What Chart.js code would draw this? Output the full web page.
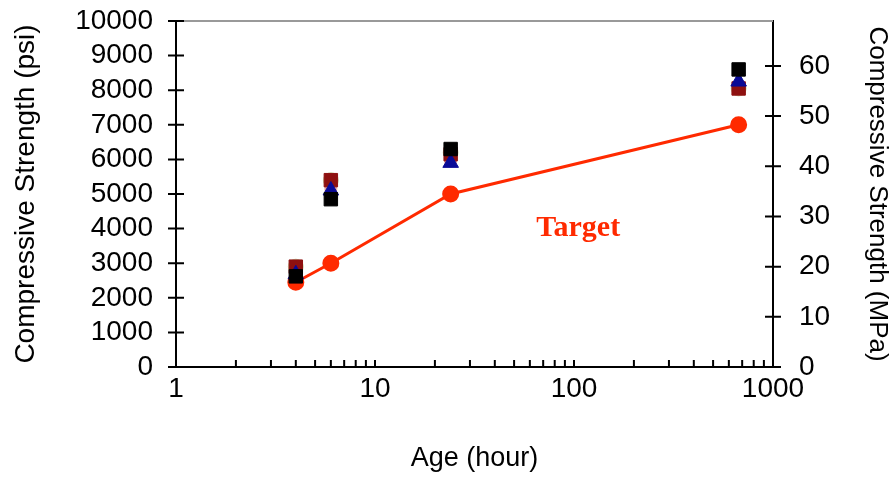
<!DOCTYPE html>
<html>
<head>
<meta charset="utf-8">
<script src="https://cdn.jsdelivr.net/npm/chart.js@4.4.1/dist/chart.umd.min.js"></script>
<style>
  html, body { margin: 0; padding: 0; background: #fff; }
  canvas { display: block; }
</style>
</head>
<body>
<canvas id="chart" width="893" height="478"></canvas>
<script>
// Ages tested (hours)
const ages = [4, 6, 24, 672];

// Compressive strength results (psi) per mix
const mixBlack = [2620, 4850, 6300, 8600];
const mixBlue = [2680, 5100, 5900, 8250];
const mixMaroon = [2900, 5400, 6150, 8050];
const mixGreen = [2900, 5400, 6200, 8050];
const mixPink = [2780, 5150, 5950, 8150];
const target = [2450, 3000, 5000, 7000];

const xTickLabels = [1, 10, 100, 1000];
const psiTicks = [0, 1000, 2000, 3000, 4000, 5000, 6000, 7000, 8000, 9000, 10000];
const mpaTicks = [0, 10, 20, 30, 40, 50, 60];
const psiToMPa = 0.0068948;

const toPoints = (vals) => vals.map((v, i) => ({ x: ages[i], y: v }));

// axis tick marks and top frame line
const framePlugin = {
  id: "frame",
  afterDraw(chart) {
    const { ctx, chartArea, scales } = chart;
    ctx.save();
    ctx.strokeStyle = "#999";
    ctx.lineWidth = 2;
    ctx.beginPath();
    ctx.moveTo(chartArea.left, chartArea.top);
    ctx.lineTo(chartArea.right, chartArea.top);
    ctx.stroke();

    ctx.strokeStyle = "#000";
    ctx.lineWidth = 2;
    ctx.beginPath();
    psiTicks.forEach((v) => {
      const y = scales.y.getPixelForValue(v);
      ctx.moveTo(chartArea.left - 8, y);
      ctx.lineTo(chartArea.left + 8, y);
    });
    mpaTicks.forEach((v) => {
      const y = scales.y2.getPixelForValue(v);
      ctx.moveTo(chartArea.right - 8, y);
      ctx.lineTo(chartArea.right + 8, y);
    });
    for (let d = 1; d < 1000; d *= 10) {
      for (let k = 1; k <= 10; k++) {
        const x = scales.x.getPixelForValue(d * k);
        ctx.moveTo(x, chartArea.bottom);
        ctx.lineTo(x, chartArea.bottom - 7);
      }
    }
    ctx.stroke();

    // Target label
    ctx.fillStyle = "#ff2a00";
    ctx.font = "bold 30px 'Liberation Serif', 'Times New Roman', serif";
    ctx.textAlign = "center";
    ctx.textBaseline = "middle";
    ctx.fillText("Target", scales.x.getPixelForValue(105), scales.y.getPixelForValue(4020));
    ctx.restore();
  },
};

const fam = "'Liberation Sans', Arial, sans-serif";
const font = { family: fam, size: 28 };

const fixVertical = (w) => (scale) => {
  scale.width = w;
  scale.paddingTop = 0;
  scale.paddingBottom = 0;
};

new Chart(document.getElementById("chart"), {
  type: "scatter",
  data: {
    datasets: [
      {
        label: "Black",
        data: toPoints(mixBlack),
        pointStyle: "rect",
        pointRadius: 9.5,
        backgroundColor: "#000",
        borderColor: "#000",
        order: 1,
      },
      {
        label: "Blue",
        data: toPoints(mixBlue),
        pointStyle: "triangle",
        pointRadius: 9,
        backgroundColor: "#0a0a96",
        borderColor: "#0a0a96",
        order: 2,
      },
      {
        label: "Maroon",
        data: toPoints(mixMaroon),
        pointStyle: "rect",
        pointRadius: 9.5,
        backgroundColor: "#8e1010",
        borderColor: "#8e1010",
        order: 3,
      },
      {
        label: "Pink",
        data: toPoints(mixPink),
        pointStyle: "circle",
        pointRadius: 6,
        backgroundColor: "#e8aaa8",
        borderColor: "#e8aaa8",
        order: 4,
      },
      {
        label: "Green",
        data: toPoints(mixGreen),
        pointStyle: "circle",
        pointRadius: 7.5,
        backgroundColor: "#cfdcb0",
        borderColor: "#cfdcb0",
        order: 5,
      },
      {
        label: "Target",
        type: "line",
        data: toPoints(target),
        showLine: true,
        borderColor: "#ff2a00",
        backgroundColor: "#ff2a00",
        borderWidth: 3,
        pointStyle: "circle",
        pointRadius: 7,
        tension: 0,
        order: 6,
      },
    ],
  },
  options: {
    responsive: false,
    devicePixelRatio: 1,
    animation: false,
    layout: { padding: { top: 21, left: 0, right: 0, bottom: 0 } },
    plugins: {
      legend: { display: false },
      tooltip: { enabled: false },
    },
    scales: {
      x: {
        type: "logarithmic",
        position: "bottom",
        min: 1,
        max: 1000,
        afterBuildTicks: (scale) => {
          scale.ticks = xTickLabels.map((v) => ({ value: v }));
        },
        afterFit: (scale) => {
          scale.height = 111;
          scale.paddingLeft = 0;
          scale.paddingRight = 0;
        },
        grid: { display: false },
        border: { display: true, color: "#000", width: 2 },
        ticks: {
          color: "#000",
          font: font,
          padding: -3,
          maxRotation: 0,
          autoSkip: false,
          callback: (v) => String(v),
        },
        title: {
          display: true,
          text: "Age (hour)",
          color: "#000",
          font: { family: fam, size: 27 },
          padding: { top: 2, bottom: 3 },
        },
      },
      y: {
        position: "left",
        min: 0,
        max: 10000,
        afterBuildTicks: (scale) => {
          scale.ticks = psiTicks.map((v) => ({ value: v }));
        },
        afterFit: fixVertical(176),
        grid: { display: false },
        border: { display: true, color: "#000", width: 2 },
        ticks: {
          color: "#000",
          font: font,
          padding: 15,
          autoSkip: false,
          callback: (v) => String(v),
        },
        title: {
          display: true,
          text: "Compressive Strength (psi)",
          color: "#000",
          font: { family: fam, size: 28 },
          padding: { top: 9, bottom: 0 },
        },
      },
      y2: {
        position: "right",
        min: 0,
        max: 10000 * psiToMPa,
        afterBuildTicks: (scale) => {
          scale.ticks = mpaTicks.map((v) => ({ value: v }));
        },
        afterFit: fixVertical(120),
        grid: { display: false },
        border: { display: true, color: "#000", width: 2 },
        ticks: {
          color: "#000",
          font: font,
          padding: 18,
          autoSkip: false,
          callback: (v) => String(v),
        },
        title: {
          display: true,
          text: "Compressive Strength (MPa)",
          color: "#000",
          font: { family: fam, size: 26 },
          padding: { top: 0, bottom: 0 },
        },
      },
    },
  },
  plugins: [framePlugin],
});
</script>
</body>
</html>
